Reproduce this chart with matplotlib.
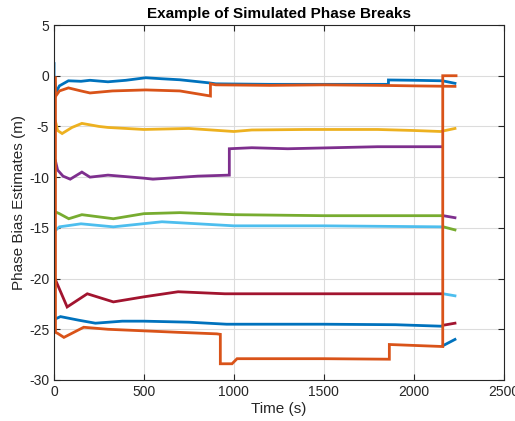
import numpy as np
import matplotlib
matplotlib.use("Agg")
import matplotlib.pyplot as plt

plt.rcParams['font.family'] = ['Liberation Sans', 'DejaVu Sans']

nan = np.nan

# MATLAB default colour order
colors = ['#0072BD', '#D95319', '#EDB120', '#7E2F8E', '#77AC30', '#4DBEEE', '#A2142F', '#0072BD', '#D95319']

# Series 1 (blue, top)
t1 = [0, 0, 12, 30, 80, 150, 200, 300, 400, 510, 600, 700, 860, 900, 1200, 1500, 1860, 1860, 2000, 2160, 2230]
v1 = [1.2, 0, -1.6, -1.0, -0.5, -0.55, -0.45, -0.6, -0.45, -0.2, -0.3, -0.4, -0.7, -0.8, -0.85, -0.85, -0.85, -0.42, -0.45, -0.5, -0.75]
# Series 2 (red, top)
t2 = [10, 30, 80, 150, 200, 325, 510, 700, 870, 870, 900, 1200, 1500, 1800, 2000, 2230]
v2 = [-2.0, -1.5, -1.2, -1.5, -1.7, -1.5, -1.4, -1.5, -2.0, -0.8, -0.9, -0.95, -0.9, -0.95, -1.0, -1.05]
# Series 3 (yellow)
t3 = [8, 20, 45, 100, 155, 250, 300, 500, 750, 1000, 1100, 1400, 1800, 2000, 2150, 2230]
v3 = [-4.5, -5.4, -5.7, -5.1, -4.7, -5.0, -5.1, -5.3, -5.2, -5.5, -5.35, -5.3, -5.3, -5.4, -5.5, -5.2]
# Series 4 (purple)
t4 = [8, 20, 50, 90, 155, 200, 300, 500, 550, 800, 975, 975, 1100, 1300, 1800, 2160, nan, 2165, 2230]
v4 = [-8.4, -9.3, -9.9, -10.2, -9.5, -10.0, -9.8, -10.1, -10.2, -9.9, -9.8, -7.2, -7.1, -7.2, -7.0, -7.0, nan, -13.8, -14.0]
# Series 5 (green)
t5 = [5, 30, 82, 155, 330, 500, 700, 1000, 1500, 2160, nan, 2165, 2230]
v5 = [-13.4, -13.6, -14.1, -13.7, -14.1, -13.6, -13.5, -13.7, -13.8, -13.8, nan, -14.9, -15.2]
# Series 6 (light blue)
t6 = [5, 30, 150, 330, 600, 800, 1000, 1500, 2160, nan, 2165, 2230]
v6 = [-15.3, -14.9, -14.6, -14.9, -14.4, -14.6, -14.8, -14.8, -14.9, nan, -21.5, -21.7]
# Series 7 (dark red)
t7 = [5, 73, 185, 330, 500, 690, 950, 1500, 2160, nan, 2165, 2230]
v7 = [-20.0, -22.8, -21.5, -22.3, -21.8, -21.3, -21.5, -21.5, -21.5, nan, -24.6, -24.4]
# Series 8 (blue, bottom)
t8 = [5, 36, 136, 230, 380, 500, 750, 960, 1500, 1900, 2160, nan, 2165, 2230]
v8 = [-24.0, -23.75, -24.1, -24.4, -24.2, -24.2, -24.3, -24.5, -24.5, -24.55, -24.7, nan, -26.6, -26.0]
# Series 9 (red, bottom)
t9 = [8, 8, 20, 55, 165, 300, 690, 905, 925, 925, 990, 1018, 1500, 1865, 1865, 2162, 2162, 2236]
v9 = [-0.2, -25.3, -25.4, -25.8, -24.8, -25.0, -25.3, -25.45, -25.5, -28.4, -28.4, -27.9, -27.9, -27.95, -26.5, -26.7, 0, 0]

series_t = [t1, t2, t3, t4, t5, t6, t7, t8, t9]
series_v = [v1, v2, v3, v4, v5, v6, v7, v8, v9]

xticks = [0, 500, 1000, 1500, 2000, 2500]
yticks = [5, 0, -5, -10, -15, -20, -25, -30]

fig = plt.figure(figsize=(5.15, 4.21), dpi=100)
ax = fig.add_axes([0.1049, 0.0974, 0.8728, 0.8432])

for t, v, c in zip(series_t, series_v, colors):
    ax.plot(t, v, color=c, lw=2.0, solid_joinstyle='miter')

ax.set_xlim(0, 2500)
ax.set_ylim(-30, 5)
ax.set_xticks(xticks)
ax.set_yticks(yticks)
ax.set_xticklabels([str(x) for x in xticks])
ax.set_yticklabels([str(y).replace('\u2212', '-') for y in yticks])
ax.grid(True, color='#dcdcdc', lw=0.8)
ax.set_axisbelow(True)
for s in ax.spines.values():
    s.set_color('#262626')
    s.set_linewidth(0.8)
ax.tick_params(direction='in', top=True, right=True, length=4, width=0.8,
               color='#262626', labelcolor='#262626', labelsize=10)
ax.set_xlabel('Time (s)', fontsize=11, color='#262626', labelpad=2)
ax.set_ylabel('Phase Bias Estimates (m)', fontsize=11, color='#262626', labelpad=2)
ax.set_title('Example of Simulated Phase Breaks', fontsize=11, fontweight='bold', color='#000000', pad=5)

fig.savefig('out.png', dpi=100)
